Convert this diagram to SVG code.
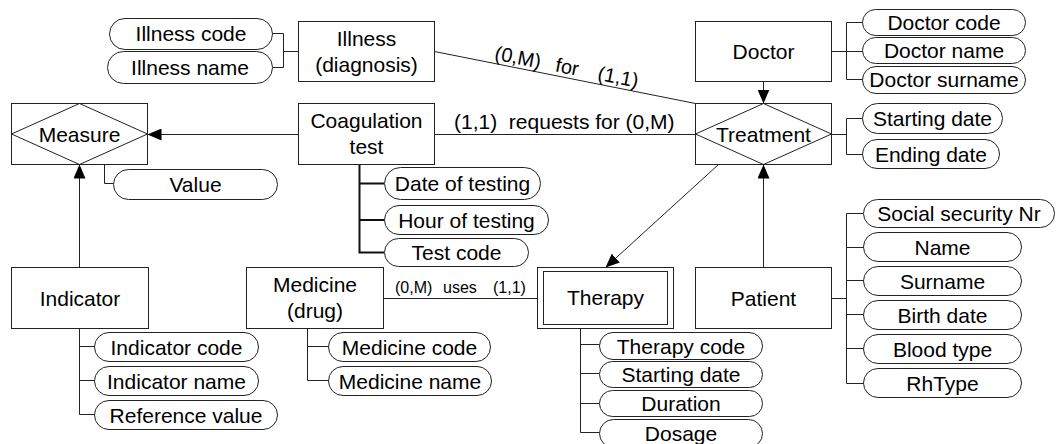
<svg xmlns="http://www.w3.org/2000/svg" width="1058" height="444" viewBox="0 0 1058 444">
<style>
text{font-family:"Liberation Sans",Arial,sans-serif;font-size:21px;fill:#000;text-anchor:middle}
.b{fill:#fff;stroke:#222;stroke-width:1}
.p{fill:#fff;stroke:#222;stroke-width:1}
.l{fill:none;stroke:#222;stroke-width:1}
.t{fill:none;stroke:#111;stroke-width:2}
.a{fill:none;stroke:#222;stroke-width:1;marker-end:url(#ah)}
.c{text-anchor:start}
.s{font-size:16px;text-anchor:start}
.r{font-size:20px;text-anchor:start}
</style>
<defs>
<marker id="ah" markerUnits="userSpaceOnUse" markerWidth="14" markerHeight="12" refX="14" refY="6" orient="auto"><path d="M0,0L14,6L0,12z" fill="#000"/></marker>
</defs>
<rect width="1058" height="444" fill="#fff"/>
<g id="connectors">
<path class="l" d="M434.5,51.5L695.5,103.5"/>
<path class="l" d="M434.5,134.5H695.5"/>
<path class="l" d="M383.5,298.5H537.5"/>
<path class="a" d="M298.5,134.5H147.5"/>
<path class="a" d="M79.5,267.5V164.5"/>
<path class="a" d="M763.5,81.5V103.5"/>
<path class="a" d="M763.5,267.5V164.5"/>
<path class="a" d="M718.5,164.5L605.5,267.5"/>
<path class="l" d="M272.5,33.5H283.5V67.5H272.5M283.5,51.5H298.5"/>
<path class="l" d="M831.5,51.5H846.5M862.5,22.5H846.5V79.5H862.5M846.5,51.5H862.5"/>
<path class="l" d="M831.5,134.5H846.5M862.5,118.5H846.5V154.5H862.5"/>
<path class="l" d="M104.5,164.5V183.5H113.5"/>
<path class="t" d="M359.5,164V252.5H384M359.5,183.5H384M359.5,220H384"/>
<path class="l" d="M79.5,328.5V414.5H94.5M79.5,346.5H94.5M79.5,380.5H94.5"/>
<path class="l" d="M307.5,328.5V380.5H328.5M307.5,346.5H328.5"/>
<path class="l" d="M580.5,328.5V432.5H599.5M580.5,344.5H599.5M580.5,373.5H599.5M580.5,403.5H599.5"/>
<path class="l" d="M831.5,298.5H846.5M846.5,213.5V383.5M846.5,213.5H863M846.5,247.5H863M846.5,280.5H863M846.5,314.5H863M846.5,348.5H863M846.5,383.5H863"/>
<g transform="translate(435,52) rotate(11.1)">
<text class="r" x="59" y="-4">(0,M)</text>
<text class="r" x="121" y="-4">for</text>
<text class="r" x="164" y="-4">(1,1)</text>
</g>
<text class="c" x="454" y="129" xml:space="preserve">(1,1)  requests for (0,M)</text>
<text class="s" x="395" y="293">(0,M)</text>
<text class="s" x="443" y="293">uses</text>
<text class="s" x="493" y="293">(1,1)</text>
</g>
<g id="illness">
<rect class="b" x="298.5" y="21.5" width="136" height="60"/>
<text x="366.5" y="45.5">Illness</text>
<text x="366.5" y="71.5">(diagnosis)</text>
</g>
<g id="illness-code"><rect class="p" x="109.5" y="18.5" width="163" height="31" rx="15.5"/><text x="191" y="41">Illness code</text></g>
<g id="illness-name"><rect class="p" x="107.5" y="51.5" width="165" height="32" rx="16"/><text x="190" y="75">Illness name</text></g>
<g id="doctor">
<rect class="b" x="695.5" y="21.5" width="136" height="60"/>
<text x="763.5" y="58.5">Doctor</text>
</g>
<g id="doctor-code"><rect class="p" x="862.5" y="9.5" width="163" height="26" rx="13"/><text x="944" y="30">Doctor code</text></g>
<g id="doctor-name"><rect class="p" x="862.5" y="37.5" width="163" height="26" rx="13"/><text x="944" y="58">Doctor name</text></g>
<g id="doctor-surname"><rect class="p" x="862.5" y="66.5" width="163" height="27" rx="13.5"/><text x="944" y="87">Doctor surname</text></g>
<g id="measure">
<rect class="b" x="11.5" y="103.5" width="136" height="61"/>
<path class="l" d="M11.5,134L79.5,103.5L147.5,134L79.5,164.5z"/>
<text x="79.5" y="141.5">Measure</text>
</g>
<g id="value"><rect class="p" x="113.5" y="169.5" width="164" height="30" rx="15"/><text x="195.5" y="192">Value</text></g>
<g id="coagulation-test">
<rect class="b" x="298.5" y="103.5" width="136" height="61"/>
<text x="366.5" y="128">Coagulation</text>
<text x="366.5" y="154">test</text>
</g>
<g id="date-of-testing"><rect class="p" x="384.5" y="167.5" width="156" height="32" rx="16"/><text x="462.5" y="191">Date of testing</text></g>
<g id="hour-of-testing"><rect class="p" x="384.5" y="205.5" width="164" height="29" rx="14.5"/><text x="466.5" y="227.5">Hour of testing</text></g>
<g id="test-code"><rect class="p" x="384.5" y="238.5" width="144" height="28" rx="14"/><text x="456.5" y="260">Test code</text></g>
<g id="treatment">
<rect class="b" x="695.5" y="103.5" width="136" height="61"/>
<path class="l" d="M695.5,134L763.5,103.5L831.5,134L763.5,164.5z"/>
<text x="763.5" y="141.5">Treatment</text>
</g>
<g id="treatment-starting-date"><rect class="p" x="862.5" y="103.5" width="140" height="30" rx="15"/><text x="932.5" y="126">Starting date</text></g>
<g id="treatment-ending-date"><rect class="p" x="862.5" y="139.5" width="137" height="29" rx="14.5"/><text x="931" y="161.5">Ending date</text></g>
<g id="indicator">
<rect class="b" x="11.5" y="267.5" width="137" height="61"/>
<text x="80" y="305.5">Indicator</text>
</g>
<g id="indicator-code"><rect class="p" x="94.5" y="332.5" width="164" height="29" rx="14.5"/><text x="176.5" y="354.5">Indicator code</text></g>
<g id="indicator-name"><rect class="p" x="94.5" y="366.5" width="164" height="29" rx="14.5"/><text x="176.5" y="388.5">Indicator name</text></g>
<g id="reference-value"><rect class="p" x="94.5" y="400.5" width="183" height="29" rx="14.5"/><text x="186" y="422.5">Reference value</text></g>
<g id="medicine">
<rect class="b" x="246.5" y="267.5" width="137" height="61"/>
<text x="315" y="292">Medicine</text>
<text x="315" y="318">(drug)</text>
</g>
<g id="medicine-code"><rect class="p" x="328.5" y="332.5" width="162" height="29" rx="14.5"/><text x="409.5" y="354.5">Medicine code</text></g>
<g id="medicine-name"><rect class="p" x="328.5" y="366.5" width="163" height="29" rx="14.5"/><text x="410" y="388.5">Medicine name</text></g>
<g id="therapy">
<rect class="b" x="537.5" y="267.5" width="136" height="61"/>
<rect class="b" x="543.5" y="271.5" width="124" height="53"/>
<text x="605.5" y="305">Therapy</text>
</g>
<g id="therapy-code"><rect class="p" x="599.5" y="332.5" width="163" height="27" rx="13.5"/><text x="681" y="353.5">Therapy code</text></g>
<g id="therapy-starting-date"><rect class="p" x="599.5" y="361.5" width="163" height="26" rx="13"/><text x="681" y="382">Starting date</text></g>
<g id="duration"><rect class="p" x="599.5" y="390.5" width="163" height="26" rx="13"/><text x="681" y="411">Duration</text></g>
<g id="dosage"><rect class="p" x="599.5" y="419.5" width="163" height="28" rx="14"/><text x="681" y="441">Dosage</text></g>
<g id="patient">
<rect class="b" x="695.5" y="267.5" width="136" height="61"/>
<text x="763.5" y="305.5">Patient</text>
</g>
<g id="social-security-nr"><rect class="p" x="863.5" y="199.5" width="191" height="28" rx="14"/><text x="959" y="221">Social security Nr</text></g>
<g id="name"><rect class="p" x="863.5" y="232.5" width="158" height="29" rx="14.5"/><text x="942.5" y="254.5">Name</text></g>
<g id="surname"><rect class="p" x="863.5" y="266.5" width="158" height="29" rx="14.5"/><text x="942.5" y="288.5">Surname</text></g>
<g id="birth-date"><rect class="p" x="863.5" y="300.5" width="158" height="29" rx="14.5"/><text x="942.5" y="322.5">Birth date</text></g>
<g id="blood-type"><rect class="p" x="863.5" y="334.5" width="158" height="29" rx="14.5"/><text x="942.5" y="356.5">Blood type</text></g>
<g id="rhtype"><rect class="p" x="863.5" y="368.5" width="158" height="29" rx="14.5"/><text x="942.5" y="390.5">RhType</text></g>
</svg>
